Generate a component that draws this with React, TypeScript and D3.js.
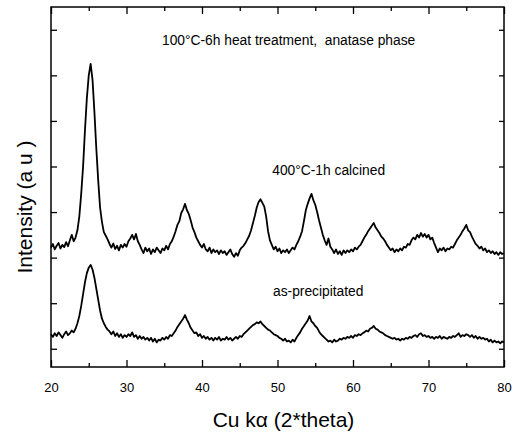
import React, { useEffect, useRef } from "react";
import * as d3 from "d3";

// 2-theta scan: 20 to 80 degrees, 0.25 degree step
const scanStart = 20;
const scanStep = 0.25;

// 400 C - 1h calcined (arbitrary units)
const calcined = [
  262, 270, 258, 266, 272, 260, 268, 263, 274, 265, 278, 290, 276, 284, 300, 330,
  380, 440, 520, 590, 640, 665, 630, 560, 480, 410, 350, 318, 296, 288, 280, 270,
  262, 271, 259, 266, 256, 268, 262, 270, 264, 276, 282, 290, 280, 292, 276, 268,
  258, 250, 262, 254, 260, 248, 258, 252, 262, 256, 250, 260, 256, 266, 258, 270,
  276, 286, 298, 312, 320, 338, 346, 358, 344, 336, 322, 306, 296, 284, 276, 268,
  262, 270, 258, 254, 262, 250, 258, 252, 256, 248, 256, 250, 254, 246, 252, 258,
  248, 242, 250, 244, 256, 262, 266, 272, 280, 288, 300, 316, 332, 350, 362, 368,
  360, 352, 330, 298, 278, 268, 258, 264, 254, 260, 250, 256, 252, 258, 250, 256,
  262, 258, 268, 276, 286, 298, 320, 344, 358, 370, 380, 366, 356, 340, 322, 306,
  290, 278, 268, 282, 264, 258, 250, 258, 248, 254, 246, 256, 250, 256, 252, 258,
  254, 262, 258, 264, 268, 276, 284, 290, 298, 304, 310, 316, 306, 300, 294, 286,
  282, 276, 268, 262, 256, 260, 252, 258, 254, 260, 256, 264, 262, 270, 268, 278,
  284, 280, 290, 284, 294, 286, 292, 284, 290, 280, 284, 272, 262, 252, 260, 256,
  262, 254, 260, 258, 264, 262, 270, 278, 284, 290, 298, 304, 312, 300, 296, 286,
  278, 270, 266, 260, 264, 256, 260, 252, 256, 250, 254, 248, 252, 246, 252, 248,
  250,
];

// as-precipitated (arbitrary units)
const precipitated = [
  72, 66, 74, 68, 76, 70, 64, 72, 78, 70, 74, 80, 76, 84, 96, 112,
  134, 160, 186, 206, 218, 224, 214, 196, 172, 148, 124, 106, 96, 88, 82, 78,
  72, 78, 68, 74, 66, 72, 64, 70, 66, 72, 68, 76, 66, 70, 62, 68,
  62, 66, 60, 64, 58, 64, 56, 62, 54, 60, 58, 64, 60, 66, 62, 70,
  68, 74, 80, 88, 94, 100, 106, 114, 104, 96, 86, 80, 74, 76, 68, 72,
  64, 68, 62, 66, 60, 64, 58, 64, 60, 66, 58, 62, 60, 66, 60, 64,
  58, 62, 66, 62, 68, 66, 72, 76, 80, 84, 88, 92, 94, 98, 96, 100,
  94, 90, 86, 82, 80, 76, 72, 70, 68, 64, 62, 58, 62, 56, 58, 54,
  60, 56, 64, 70, 76, 84, 90, 96, 102, 112, 100, 96, 90, 86, 78, 72,
  68, 64, 60, 56, 58, 54, 60, 56, 58, 62, 60, 64, 62, 66, 64, 68,
  64, 70, 68, 72, 70, 74, 76, 80, 78, 84, 86, 90, 84, 82, 78, 76,
  74, 70, 68, 66, 64, 62, 64, 60, 62, 58, 62, 60, 64, 62, 66, 64,
  68, 70, 66, 72, 74, 68, 70, 66, 68, 64, 66, 62, 66, 64, 68, 62,
  66, 64, 62, 66, 64, 68, 66, 70, 74, 66, 70, 68, 72, 70, 66, 70,
  64, 68, 62, 66, 62, 64, 60, 62, 56, 60, 54, 58, 54, 56, 52, 56,
  54,
];

const xTicks = [20, 30, 40, 50, 60, 70, 80];
const xMinorTicks = [25, 35, 45, 55, 65, 75];
const yTicks = [40, 140, 240, 340, 440, 540, 640, 740];

const titleText = "100\u00B0C-6h heat treatment,  anatase phase";
const calcinedLabel = "400\u00B0C-1h calcined";
const precipitatedLabel = "as-precipitated";
const xTitle = "Cu k\u03B1 (2*theta)";
const yTitle = "Intensity (a u )";

const W = 519;
const H = 440;
const margin = { left: 51, right: 15, top: 7, bottom: 73 };
const FONT = "'Liberation Sans', Arial, Helvetica, sans-serif";

export default function App() {
  const ref = useRef<SVGSVGElement>(null);

  useEffect(() => {
    const svg = d3.select(ref.current);
    svg.selectAll("*").remove();

    const x = d3.scaleLinear().domain([20, 80]).range([margin.left, W - margin.right]);
    const y = d3.scaleLinear().domain([0, 790]).range([H - margin.bottom, margin.top]);
    const x0 = x.range()[0], x1 = x.range()[1];
    const y0 = y.range()[0], y1 = y.range()[1];

    const line = d3
      .line<number>()
      .x((_, i) => x(scanStart + i * scanStep))
      .y((d) => y(d));

    // traces
    [calcined, precipitated].forEach((series) => {
      svg.append("path")
        .datum(series)
        .attr("d", line)
        .attr("fill", "none")
        .attr("stroke", "#000")
        .attr("stroke-width", 1.8)
        .attr("stroke-linejoin", "round");
    });

    // frame
    svg.append("rect")
      .attr("x", x0)
      .attr("y", y1)
      .attr("width", x1 - x0)
      .attr("height", y0 - y1)
      .attr("fill", "none")
      .attr("stroke", "#000")
      .attr("stroke-width", 1.5);

    // bottom axis, ticks pointing inward
    const bottom = svg.append("g").attr("transform", `translate(0,${y0})`);
    bottom.call(
      d3.axisBottom(x).tickValues(xTicks).tickSize(-7).tickPadding(16).tickFormat(d3.format("d"))
    );
    bottom.append("g").call(d3.axisBottom(x).tickValues(xMinorTicks).tickSize(-4).tickFormat(() => ""));
    bottom.selectAll(".domain").remove();
    bottom.selectAll("line").attr("stroke-width", 1.3);
    bottom.selectAll("text")
      .attr("font-family", FONT)
      .attr("font-size", 13)
      .attr("fill", "#000");

    // top axis, mirrored ticks without labels
    const top = svg.append("g").attr("transform", `translate(0,${y1})`);
    top.call(d3.axisTop(x).tickValues(xTicks).tickSize(-7).tickFormat(() => ""));
    top.append("g").call(d3.axisTop(x).tickValues(xMinorTicks).tickSize(-4).tickFormat(() => ""));
    top.selectAll(".domain").remove();
    top.selectAll("line").attr("stroke-width", 1.3);

    // left and right axes, inward ticks, no labels
    const left = svg.append("g").attr("transform", `translate(${x0},0)`);
    left.call(d3.axisLeft(y).tickValues(yTicks).tickSize(-6).tickFormat(() => ""));
    left.selectAll(".domain").remove();
    left.selectAll("line").attr("stroke-width", 1.3);

    const right = svg.append("g").attr("transform", `translate(${x1},0)`);
    right.call(d3.axisRight(y).tickValues(yTicks).tickSize(-5).tickFormat(() => ""));
    right.selectAll(".domain").remove();
    right.selectAll("line").attr("stroke-width", 1.3);

    // annotations
    const note = (txt: string, px: number, py: number) =>
      svg.append("text")
        .attr("x", px)
        .attr("y", py)
        .attr("font-family", FONT)
        .attr("font-size", 13.8)
        .attr("fill", "#000")
        .style("white-space", "pre")
        .text(txt);

    note(titleText, x(34.7), 45);
    note(calcinedLabel, x(49.3), 175);
    note(precipitatedLabel, x(49.4), 296);

    // axis titles
    svg.append("text")
      .attr("x", (x0 + x1) / 2 + 6)
      .attr("y", 427)
      .attr("text-anchor", "middle")
      .attr("font-family", FONT)
      .attr("font-size", 21)
      .attr("fill", "#000")
      .text(xTitle);

    svg.append("text")
      .attr("transform", `translate(32,${207}) rotate(-90)`)
      .attr("text-anchor", "middle")
      .attr("font-family", FONT)
      .attr("font-size", 21)
      .attr("fill", "#000")
      .text(yTitle);
  }, []);

  return (
    <svg
      ref={ref}
      width={W}
      height={H}
      style={{ position: "absolute", left: 0, top: 0, background: "#fff", display: "block" }}
    />
  );
}
